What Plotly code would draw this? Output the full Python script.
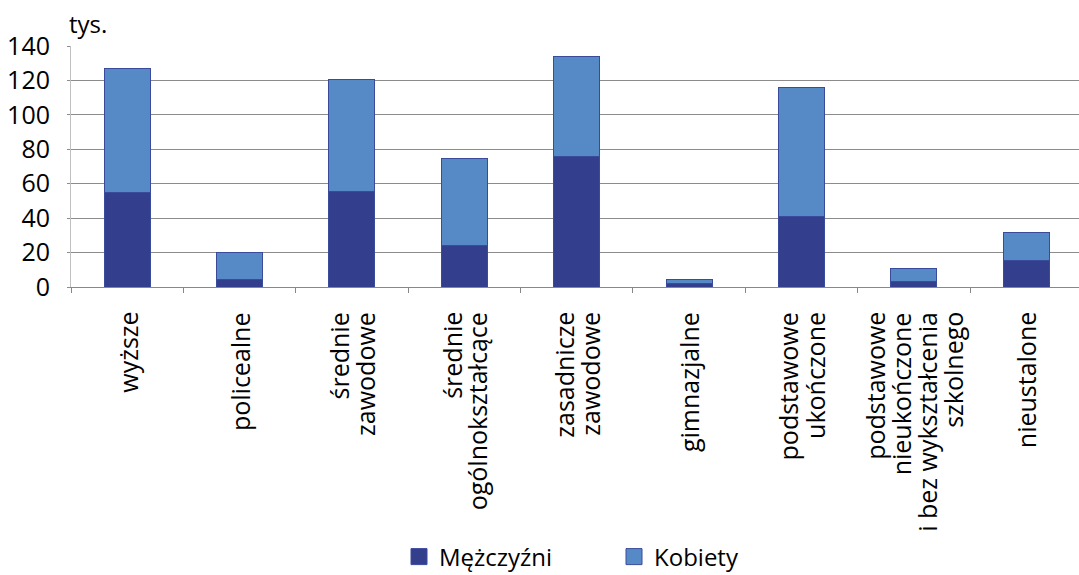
import plotly.graph_objects as go

categories = [
    "wyższe",
    "policealne",
    "średnie<br>zawodowe",
    "średnie<br>ogólnokształcące",
    "zasadnicze<br>zawodowe",
    "gimnazjalne",
    "podstawowe<br>ukończone",
    "podstawowe<br>nieukończone<br>i bez wykształcenia<br>szkolnego",
    "nieustalone",
]
men = [55, 4.5, 55.5, 24.2, 76, 1.8, 40.7, 3, 15.2]
women = [72, 15.3, 65, 50.6, 58, 2.4, 75, 8, 16.4]
y_ticks = [0, 20, 40, 60, 80, 100, 120, 140]

FONT = "'Open Sans', Lato, sans-serif"
C_MEN = "#333f8c"
C_WOMEN = "#558ac6"
C_EDGE = "#3a4b9c"
LINE_STEP = 26  # px between lines of the rotated category labels

fig = go.Figure()
fig.add_trace(go.Bar(x=categories, y=men, name="Mężczyźni",
                     marker=dict(color=C_MEN, line=dict(color=C_EDGE, width=1)),
                     width=0.41, showlegend=False))
fig.add_trace(go.Bar(x=categories, y=women, name="Kobiety",
                     marker=dict(color=C_WOMEN, line=dict(color=C_EDGE, width=1)),
                     width=0.41, showlegend=False))

# legend entries with larger square symbols
for nm, col in [("Mężczyźni", C_MEN), ("Kobiety", C_WOMEN)]:
    fig.add_trace(go.Scatter(x=[None], y=[None], mode="markers", name=nm,
                             marker=dict(symbol="square", size=19, color=col,
                                         line=dict(color=C_EDGE, width=1))))

# rotated category labels, one annotation per line for tight line spacing
annotations = []
for cat in categories:
    lines = cat.split("<br>")
    n = len(lines)
    for j, ln in enumerate(lines):
        annotations.append(dict(
            text=ln, x=cat, xref="x", y=0, yref="paper",
            xanchor="center", yanchor="top", textangle=-90, showarrow=False,
            xshift=(j - (n - 1) / 2) * LINE_STEP, yshift=-24,
            font=dict(size=25), borderpad=0))

annotations.append(dict(text="tys.", xref="paper", yref="paper", x=0.0, y=1.0,
                        xanchor="left", yanchor="bottom", showarrow=False,
                        xshift=-4, yshift=4, font=dict(size=24)))

fig.update_layout(
    barmode="stack",
    width=1079, height=575,
    margin=dict(l=71, r=0, t=46, b=288, autoexpand=False),
    paper_bgcolor="white", plot_bgcolor="white",
    font=dict(family=FONT, size=22, color="black"),
    showlegend=True,
    legend=dict(orientation="h", traceorder="normal",
                x=399 / 1079, xanchor="left", xref="container",
                y=(287 - 557) / 241, yanchor="middle", yref="paper",
                font=dict(size=24), entrywidth=170, itemsizing="trace"),
    xaxis=dict(range=[-0.5, 8.47], tickson="boundaries", ticks="outside",
               ticklen=5, tickcolor="#888888", showline=True, linecolor="#888888",
               showgrid=False, showticklabels=False, automargin=False),
    yaxis=dict(range=[0, 140], tickvals=y_ticks, showgrid=True, gridcolor="#8c8c8c",
               gridwidth=1, showline=True, linecolor="#c0c0c0", ticks="outside",
               ticklen=3, tickcolor="#8c8c8c", tickfont=dict(size=25), zeroline=False,
               ticklabelstandoff=12, automargin=False),
    annotations=annotations,
)

fig.write_html("out.html", post_script="document.body.style.margin='0';",
               config={"displayModeBar": False})
